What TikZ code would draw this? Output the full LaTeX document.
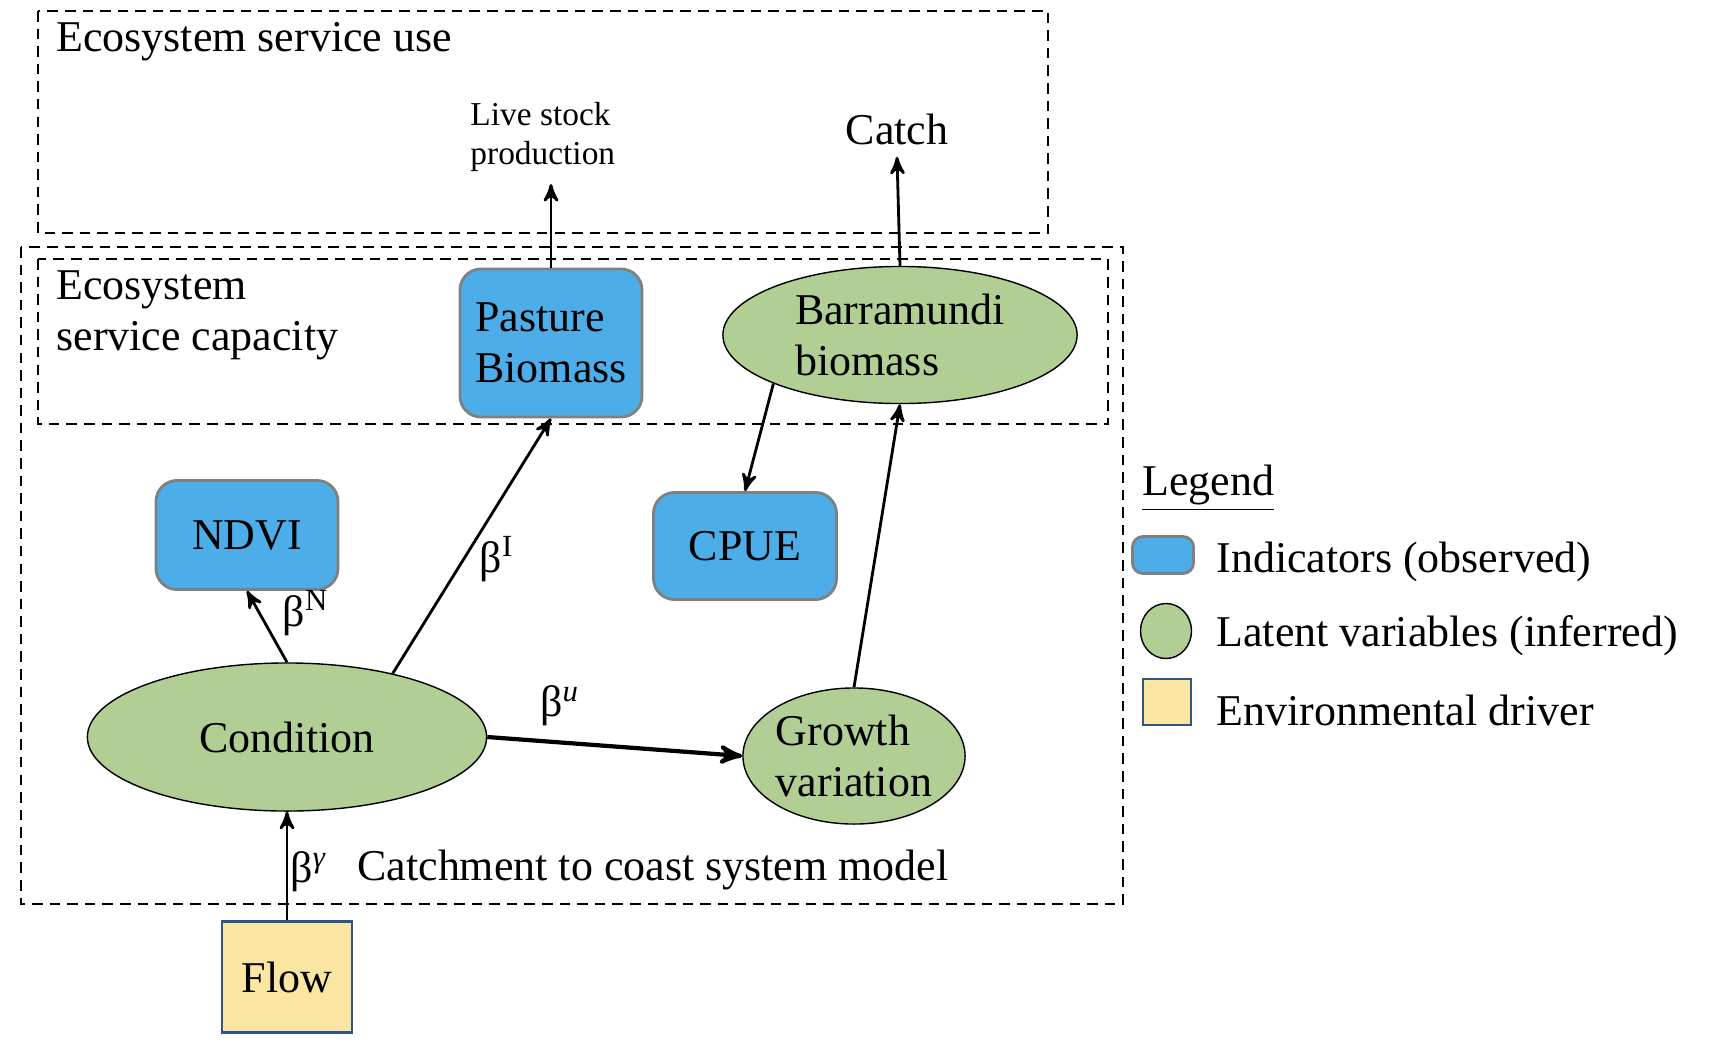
\documentclass[tikz,border=0pt]{standalone}
\usepackage{fontspec}
\setmainfont{Liberation Serif}
\usepackage{tikz}
\usetikzlibrary{arrows,positioning,shapes.geometric}

\definecolor{obsblue}{RGB}{76,173,232}
\definecolor{latgreen}{RGB}{177,206,149}
\definecolor{drvyellow}{RGB}{250,229,163}
\definecolor{drvborder}{RGB}{47,84,140}

\begin{document}
\begin{tikzpicture}[x=0.01cm,y=-0.01cm,font=\fontsize{12.5}{14.5}\selectfont,
	indicator/.style={rectangle,rounded corners=6pt,draw=gray,fill=obsblue,thick,align=left},
	latent/.style={ellipse,draw,fill=latgreen,thin,inner sep=-4pt,align=left},
	driver/.style={rectangle,draw=drvborder,fill=drvyellow,thick},
	region/.style={draw,line width=0.6pt,dash pattern=on 3pt off 2pt},
	every edge/.style={draw,->,>=stealth',thick}]
\useasboundingbox (0,0) rectangle (1712,1048);

% system boundaries
\draw[region] (38,11) rectangle (1048,233);
\draw[region] (21,247) rectangle (1123,904);
\draw[region] (38,259) rectangle (1108,424);
\node[anchor=west] (uselbl) at (44,42) {Ecosystem service use};
\node[anchor=west,align=left] (caplbl) at (44,315) {Ecosystem\\service capacity};
\node[anchor=west] (modlbl) at (345,870) {Catchment to coast system model};

\node[indicator,minimum width=1.82cm,minimum height=1.48cm] (past) at (551,343) {Pasture\\Biomass};
\node[latent,minimum width=3.54cm,minimum height=1.37cm] (barr) at (900,335) {Barramundi\\biomass};
\node[indicator,minimum width=1.82cm,minimum height=1.09cm] (ndvi) at (247,535) {NDVI};
\node[indicator,minimum width=1.83cm,minimum height=1.07cm] (cpue) at (745,546) {CPUE};
\node[latent,minimum width=3.99cm,minimum height=1.48cm] (cond) at (287,737) {Condition};
\node[latent,minimum width=2.22cm,minimum height=1.36cm] (grow) at (854,756) {Growth\\variation};
\node[driver,minimum width=1.30cm,minimum height=1.11cm] (flow) at (287,977) {Flow};

\node[anchor=west,align=left,font=\fontsize{9.5}{11.1}\selectfont] (live) at (458,137) {Live stock\\production};
\node[anchor=base] (catch) at (897,144) {Catch};

\draw (past.north) edge (past.north |- live.south)
	(barr.north) edge (catch.south)
	(barr.201) edge (cpue.north)
	(grow.north) edge (barr.south)
	(cond.north) edge (ndvi.south)
	(cond.31) edge (past.south)
	(cond.east) edge[very thick] (grow.west)
	(flow.north) edge (cond.south);

\node (bn) at (306,613) {β\textsuperscript{N}};
\node (bi) at (497,559) {β\textsuperscript{I}};
\node (bu) at (560,706) {β\textsuperscript{\textit{u}}};
\node (bg) at (309,872) {β\textsuperscript{\textit{γ}}};

% legend
\node[anchor=west] (leg) at (1130,488) {\underline{Legend}};
\node[indicator,rounded corners=3pt,minimum width=0.61cm,minimum height=0.37cm] (legi) at (1163,555) {};
\node[latent,minimum width=0.51cm,minimum height=0.55cm] (legl) at (1166,631) {};
\node[driver,minimum width=0.48cm,minimum height=0.46cm] (legd) at (1167,702) {};
\node[anchor=west] (legit) at (1204,562) {Indicators (observed)};
\node[anchor=west] (leglt) at (1204,636) {Latent variables (inferred)};
\node[anchor=west] (legdt) at (1204,710) {Environmental driver};
\end{tikzpicture}
\end{document}
